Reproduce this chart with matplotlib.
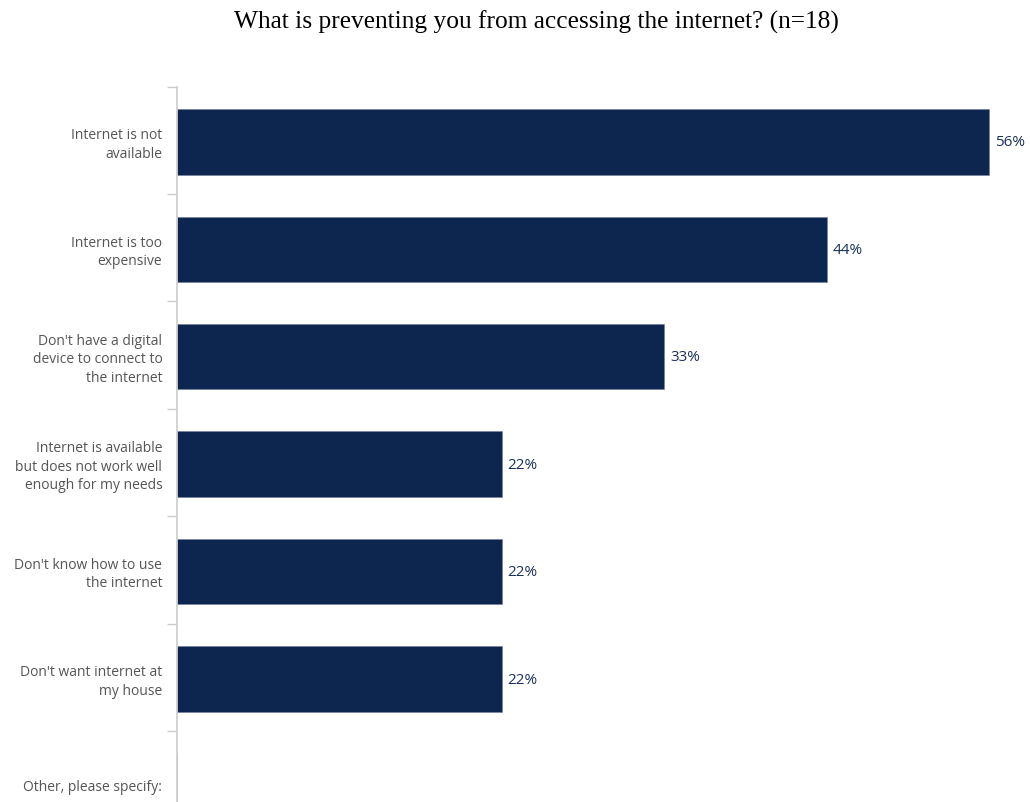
import numpy as np
import matplotlib
matplotlib.use('Agg')
from matplotlib import pyplot as plt

categories = ["Internet is not\navailable",
              "Internet is too\nexpensive",
              "Don't have a digital\ndevice to connect to\nthe internet",
              "Internet is available\nbut does not work well\nenough for my needs",
              "Don't know how to use\nthe internet",
              "Don't want internet at\nmy house",
              "Other, please specify:"]
counts = [10, 8, 6, 4, 4, 4, 0]
n_resp = 18
shares = [100.0 * c / n_resp for c in counts]

title = "What is preventing you from accessing the internet? (n=18)"
bar_col = '#0d2650'
txt_col = '#555555'

fig = plt.figure(figsize=(10.3, 8.03), dpi=100)
# the plot runs off the bottom edge, last row is partly clipped
ax = fig.add_axes([0.1718, -0.0455, 0.84, 0.9365])

y = np.arange(len(categories))
ax.barh(y + 0.015, shares, height=0.61, color=bar_col, edgecolor='#6f7f99', linewidth=0.4)

for yi, v in zip(y, shares):
    if v > 0:
        ax.text(v + 0.4, yi + 0.015, '%.0f%%' % v, va='center', ha='left',
                fontsize=11, color='#1a2f5a', family='Open Sans')

ax.set_ylim(len(categories) - 0.5, -0.5)
ax.set_xlim(0, 59.2)
ax.set_yticks(y)
ax.set_yticklabels(categories, fontsize=10, color=txt_col, family='Open Sans',
                   linespacing=1.3)
ax.set_yticks(np.arange(-0.5, len(categories), 1.0), minor=True)
ax.tick_params(axis='y', which='major', length=0, pad=10.5)
ax.tick_params(axis='y', which='minor', length=7.2, color='#cccccc', width=1)
ax.set_xticks([])

for s in ['top', 'right', 'bottom']:
    ax.spines[s].set_visible(False)
ax.spines['left'].set_color('#cccccc')
ax.spines['left'].set_linewidth(1.2)

fig.text(0.5204, 0.9726, title, ha='center', va='center', fontsize=18.3,
         family='Liberation Serif', color='black')

fig.savefig('out.png', dpi=100)
